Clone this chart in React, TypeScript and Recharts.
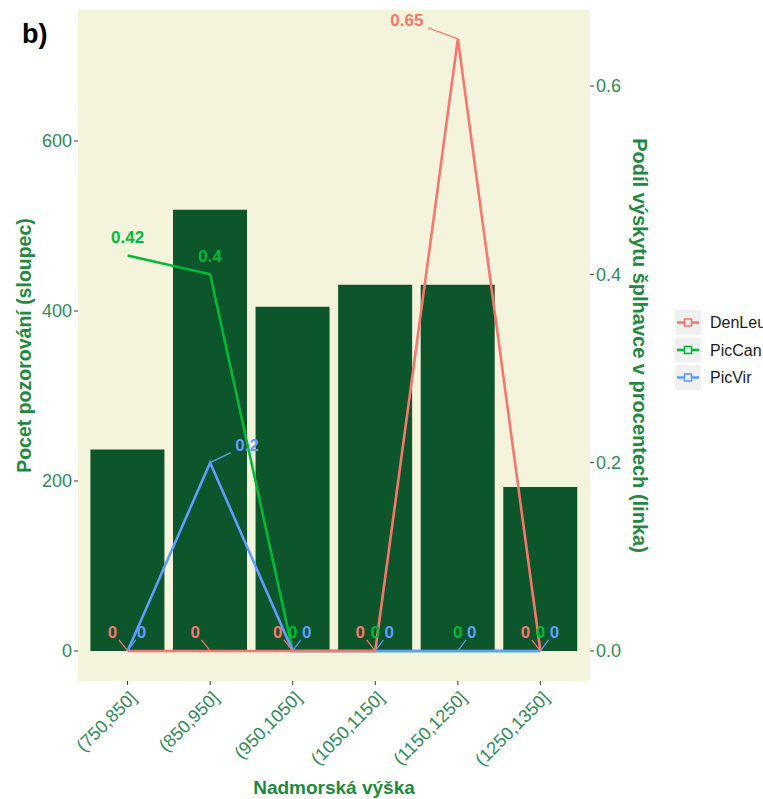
import {
  ComposedChart, Bar, Line, XAxis, YAxis, CartesianGrid, LabelList,
} from "recharts";

// elevation bins (x axis)
const bins = ["(750,850]", "(850,950]", "(950,1050]", "(1050,1150]", "(1150,1250]", "(1250,1350]"];
// number of observations per bin (bars, left axis)
const counts = [237, 519, 405, 431, 431, 193];
// share of woodpecker occurrence (lines, right axis)
const denLeu = [0, 0, 0, 0, 0.65, 0];
const picCan = [0.42, 0.4, 0, 0, 0, 0];
const picVir = [0, 0.2, 0, 0, 0, 0];

const leftTicks = [0, 200, 400, 600];
const rightTicks = [0, 0.2, 0.4, 0.6];

const seriesNames = ["DenLeu", "PicCan", "PicVir"];
const seriesColors: Record<string, string> = {
  DenLeu: "#F8766D",
  PicCan: "#00BA38",
  PicVir: "#619CFF",
};

const data = bins.map((bin, i) => ({
  bin,
  count: counts[i],
  DenLeu: denLeu[i],
  PicCan: picCan[i],
  PicVir: picVir[i],
}));

const FONT = "'Liberation Sans', Arial, sans-serif";
const TICK_COLOR = "#2E8B57";
const TITLE_COLOR = "#1E8A3E";

// rough stand-in for ggrepel: nudge labels so they don't sit on each other
const labelShift = (series: string, value: number): [number, number] => {
  if (value === 0) {
    if (series === "DenLeu") return [-15, -19];
    if (series === "PicVir") return [14, -19];
    return [0, -19];
  }
  if (series === "DenLeu") return [-51, -19];
  if (series === "PicVir") return [37, -18];
  return [0, -18];
};

const makeLabel = (series: string) => (props: any) => {
  const { x, y, value } = props;
  if (x == null || y == null) return null;
  const color = seriesColors[series];
  const [dx, dy] = labelShift(series, value);
  const text = String(value);
  const lx = x + dx;
  const ly = y + dy;
  const hw = text.length * 4.8 + 2;
  const hh = 8;
  let seg = null;
  if (Math.abs(dx) > 5) {
    const vx = x - lx;
    const vy = y - ly;
    const t = Math.min(hw / Math.abs(vx || 1e-6), hh / Math.abs(vy || 1e-6));
    seg = (
      <line x1={lx + t * vx} y1={ly + t * vy} x2={x} y2={y} stroke={color} strokeWidth={1.2} />
    );
  }
  return (
    <g>
      {seg}
      <text x={lx} y={ly + 6} textAnchor="middle" fill={color} fontFamily={FONT}
        fontSize={17} fontWeight="bold">
        {text}
      </text>
    </g>
  );
};

const XTick = (props: any) => {
  const { x, y, payload } = props;
  return (
    <text x={x + 10} y={y + 12} transform={`rotate(-45 ${x + 10} ${y + 12})`} textAnchor="end"
      fill={TICK_COLOR} fontFamily={FONT} fontSize={18}>
      {payload.value}
    </text>
  );
};

export default function App() {
  return (
    <div style={{ position: "absolute", left: 0, top: 0, width: 763, height: 799, overflow: "hidden", background: "#fff" }}>
      <ComposedChart
        width={763}
        height={799}
        data={data}
        margin={{ top: 10, right: 0, left: 0, bottom: 28 }}
        barCategoryGap="5%"
      >
        <CartesianGrid fill="#F4F3DC" horizontal={false} vertical={false} />
        <XAxis
          dataKey="bin"
          height={90}
          padding={{ left: 8.3, right: 8.3 }}
          axisLine={false}
          tickSize={4}
          tickLine={{ stroke: "#333", strokeWidth: 1 }}
          tick={<XTick />}
          interval={0}
          label={{
            content: ({ viewBox }: any) => (
              <text x={viewBox.x + viewBox.width / 2} y={viewBox.y + 113} textAnchor="middle"
                fill={TITLE_COLOR} fontFamily={FONT} fontSize={19} fontWeight="bold">
                Nadmorská výška
              </text>
            ),
          }}
        />
        <YAxis
          yAxisId="left"
          width={78}
          domain={[-35.3, 754.1]}
          ticks={leftTicks}
          axisLine={false}
          tickSize={4}
          tickLine={{ stroke: "#333" }}
          tick={{ fill: TICK_COLOR, fontFamily: FONT, fontSize: 18 }}
          label={{
            content: ({ viewBox }: any) => {
              const cx = 31;
              const cy = viewBox.y + viewBox.height / 2;
              return (
                <text x={cx} y={cy} transform={`rotate(-90 ${cx} ${cy})`} textAnchor="middle"
                  fill={TITLE_COLOR} fontFamily={FONT} fontSize={19.5} fontWeight="bold">
                  Pocet pozorování (sloupec)
                </text>
              );
            },
          }}
        />
        <YAxis
          yAxisId="right"
          orientation="right"
          width={173}
          domain={[-0.0319, 0.6807]}
          ticks={rightTicks}
          tickFormatter={(v: number) => v.toFixed(1)}
          axisLine={false}
          tickSize={4}
          tickLine={{ stroke: "#333" }}
          tick={{ fill: TICK_COLOR, fontFamily: FONT, fontSize: 18 }}
          label={{
            content: ({ viewBox }: any) => {
              const cx = 633;
              const cy = viewBox.y + viewBox.height / 2;
              return (
                <text x={cx} y={cy} transform={`rotate(90 ${cx} ${cy})`} textAnchor="middle"
                  fill={TITLE_COLOR} fontFamily={FONT} fontSize={20} fontWeight="bold">
                  Podíl výskytu šplhavce v procentech (linka)
                </text>
              );
            },
          }}
        />
        <Bar yAxisId="left" dataKey="count" fill="#0D552A" isAnimationActive={false} />
        <Line yAxisId="right" dataKey="PicCan" stroke={seriesColors.PicCan} strokeWidth={2.6}
          dot={false} isAnimationActive={false}>
          <LabelList dataKey="PicCan" content={makeLabel("PicCan")} />
        </Line>
        <Line yAxisId="right" dataKey="PicVir" stroke={seriesColors.PicVir} strokeWidth={2.6}
          dot={false} isAnimationActive={false}>
          <LabelList dataKey="PicVir" content={makeLabel("PicVir")} />
        </Line>
        <Line yAxisId="right" dataKey="DenLeu" stroke={seriesColors.DenLeu} strokeWidth={2.6}
          dot={false} isAnimationActive={false}>
          <LabelList dataKey="DenLeu" content={makeLabel("DenLeu")} />
        </Line>
      </ComposedChart>

      {/* panel tag and legend */}
      <svg width={763} height={799} style={{ position: "absolute", left: 0, top: 0, pointerEvents: "none" }}>
        <text x={22} y={43} fontFamily={FONT} fontSize={27} fontWeight="bold" fill="#000">b)</text>
        {seriesNames.map((name, i) => {
          const top = 310 + i * 27.5;
          const color = seriesColors[name];
          return (
            <g key={name}>
              <rect x={675} y={top} width={26} height={25} fill="#F0F0F0" />
              <line x1={677} x2={699} y1={top + 12.5} y2={top + 12.5} stroke={color} strokeWidth={2.6} />
              <rect x={684.5} y={top + 9} width={7} height={7} fill="#F0F0F0" stroke={color} strokeWidth={1.6} />
              <text x={710} y={top + 18} fontFamily={FONT} fontSize={16} fill="#1a1a1a">{name}</text>
            </g>
          );
        })}
      </svg>
    </div>
  );
}
